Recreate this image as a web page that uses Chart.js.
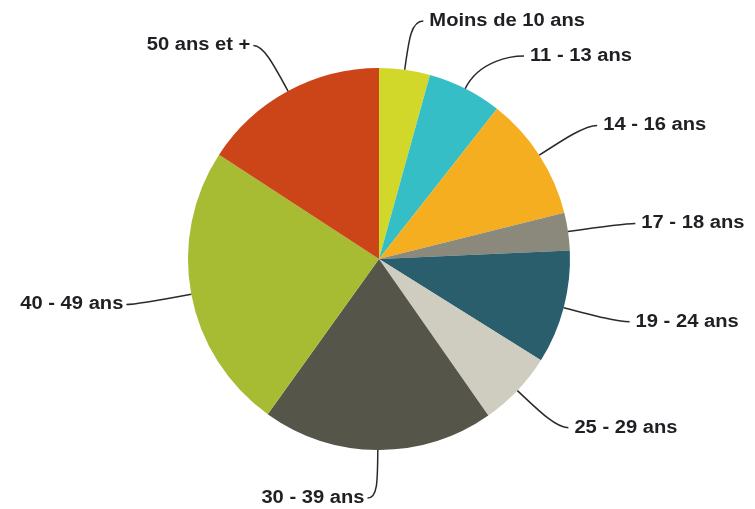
<!DOCTYPE html>
<html>
<head>
<meta charset="utf-8">
<script src="https://cdn.jsdelivr.net/npm/chart.js@4"></script>
<style>
  html, body { margin:0; padding:0; background:#fff; }
  #wrap { width:755px; height:509px; }
</style>
</head>
<body>
<div id="wrap"><canvas id="pie" width="755" height="509"></canvas></div>
<script>
// categories and shares (%)
const categories = ["Moins de 10 ans", "11 - 13 ans", "14 - 16 ans", "17 - 18 ans", "19 - 24 ans",
                    "25 - 29 ans", "30 - 39 ans", "40 - 49 ans", "50 ans et +"];
const shares = [4.3, 6.3, 10.5, 3.2, 9.6, 6.4, 19.6, 24.3, 15.8];
const colors = ["#d2d829", "#35bec5", "#f6ae21", "#8a897b", "#2b5e6c",
                "#cfcdbf", "#56554a", "#a7bc33", "#cc4519"];

// outside labels with curved leader lines
const leaderLabels = {
  id: "leaderLabels",
  afterDatasetsDraw(chart){
    const ctx = chart.ctx;
    const arcs = chart.getDatasetMeta(0).data;
    const minGap = 35;
    // first pass: label anchor a bit outside the pie
    const items = arcs.map((arc, i) => {
      const mid = (arc.startAngle + arc.endAngle) / 2;
      const cx = Math.cos(mid), cy = Math.sin(mid);
      const dist = 48 + 8 * Math.abs(cx);
      return { i, arc, cx, cy, dist, right: cx >= 0, y: arc.y + cy * (arc.outerRadius + dist) };
    });
    // push labels down on the right side if they overlap (top to bottom)
    const rightSide = items.filter(d => d.right && d.cy < 0).sort((a, b) => a.y - b.y);
    for (let k = 1; k < rightSide.length; k++) {
      if (rightSide[k].y - rightSide[k-1].y < minGap) rightSide[k].y = rightSide[k-1].y + minGap;
    }
    ctx.save();
    ctx.font = "bold 18px 'Liberation Sans', Arial, sans-serif";
    ctx.textBaseline = "middle";
    ctx.fillStyle = "#1f1f24";
    ctx.strokeStyle = "#2a2a2a";
    ctx.lineWidth = 1.5;
    items.forEach(d => {
      const arc = d.arc, r = arc.outerRadius, R = r + d.dist;
      const x0 = arc.x + d.cx * r, y0 = arc.y + d.cy * r;
      const dy = d.y - arc.y;
      const dx = Math.sqrt(Math.max(R * R - dy * dy, 0)) * (d.right ? 1 : -1);
      const x1 = arc.x + dx, y1 = d.y;
      const xc = arc.x + d.cx * (r + 32), yc = arc.y + d.cy * (r + 32);
      const x2 = x1 + (d.right ? 12 : -10);
      ctx.beginPath();
      ctx.moveTo(x0, y0);
      ctx.bezierCurveTo(xc, yc, x1, y1, x2, y1);
      ctx.stroke();
      const label = categories[d.i];
      const sx = 1.12;
      const w = ctx.measureText(label).width * sx;
      const tx = d.right ? x2 + 6 : x2 - 3 - w;
      ctx.save();
      ctx.translate(tx, y1);
      ctx.scale(sx, 1);
      ctx.fillText(label, 0, 0);
      ctx.restore();
    });
    ctx.restore();
  }
};

new Chart(document.getElementById("pie"), {
  type: "pie",
  data: {
    labels: categories,
    datasets: [{
      data: shares,
      backgroundColor: colors,
      borderWidth: 0
    }]
  },
  options: {
    responsive: false,
    animation: false,
    layout: { padding: { left: 188, right: 185, top: 68, bottom: 59 } },
    plugins: {
      legend: { display: false },
      tooltip: { enabled: false }
    }
  },
  plugins: [leaderLabels]
});
</script>
</body>
</html>
